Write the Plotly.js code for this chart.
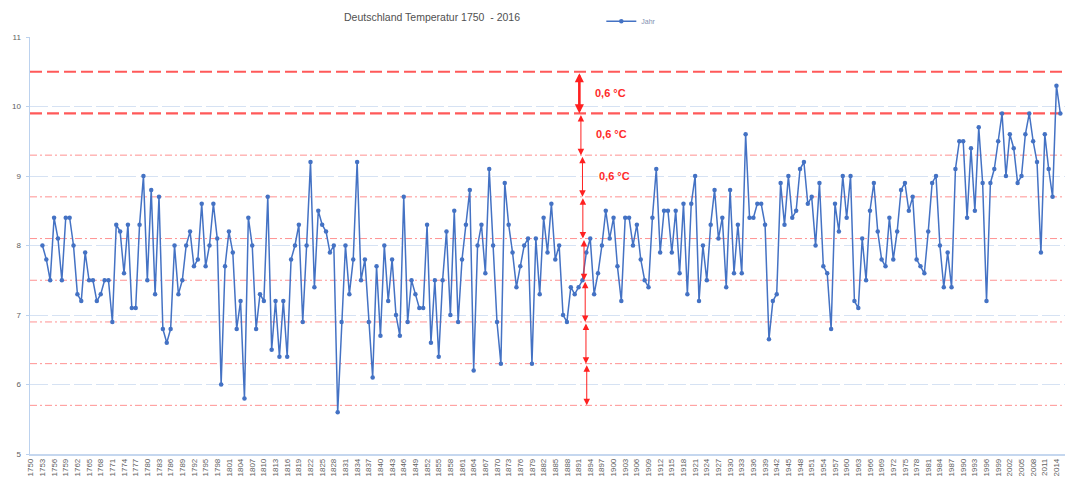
<!DOCTYPE html>
<html><head><meta charset="utf-8">
<script src="https://cdn.plot.ly/plotly-3.0.1.min.js"></script>
<style>html,body{margin:0;padding:0;background:#fff}#chart{width:1072px;height:479px}</style>
</head><body><div id="chart"></div>
<script>
// Annual mean temperature Germany (°C)
const firstYear = 1753;
const temps = [
  8.0,7.8,7.5,8.4,8.1,7.5,8.4,8.4,8.0,7.3,7.2,7.9,7.5,7.5,7.2,7.3,7.5,7.5,6.9,8.3,8.2,7.6,8.3,7.1,7.1,8.3,9.0,7.5,8.8,7.3,8.7,6.8,6.6,6.8,8.0,7.3,7.5,8.0,8.2,7.7,7.8,8.6,7.7,
  8.0,8.6,8.1,6.0,7.7,8.2,7.9,6.8,7.2,5.8,8.4,8.0,6.8,7.3,7.2,8.7,6.5,7.2,6.4,7.2,6.4,7.8,8.0,8.3,6.9,8.0,9.2,7.4,8.5,8.3,8.2,7.9,8.0,5.6,6.9,8.0,7.3,7.8,9.2,7.5,7.8,6.9,6.1,7.7,
  6.7,8.0,7.2,7.8,7.0,6.7,8.7,6.9,7.5,7.3,7.1,7.1,8.3,6.6,7.5,6.4,7.5,8.2,7.0,8.5,6.9,7.8,8.3,8.8,6.2,8.0,8.3,7.6,9.1,8.0,6.9,6.3,8.9,8.3,7.9,7.4,7.7,8.0,8.1,6.3,8.1,7.3,8.4,7.9,8.6,
  7.8,8.0,7.0,6.9,7.4,7.3,7.4,7.5,7.9,8.1,7.3,7.6,8.0,8.5,8.1,8.4,7.7,7.2,8.4,8.4,8.0,8.3,7.8,7.5,7.4,8.4,9.1,7.9,8.5,8.5,7.9,8.5,7.6,8.6,7.3,8.6,9.0,7.2,8.0,7.5,8.3,8.8,8.1,8.4,
  7.4,8.8,7.6,8.3,7.6,9.6,8.4,8.4,8.6,8.6,8.3,6.65,7.2,7.3,8.9,8.3,9.0,8.4,8.5,9.1,9.2,8.6,8.7,8.0,8.9,7.7,7.6,6.8,8.6,8.2,9.0,8.4,9.0,7.2,7.1,8.1,7.5,8.5,8.9,8.2,7.8,7.7,8.4,7.8,
  8.2,8.8,8.9,8.5,8.7,7.8,7.7,7.6,8.2,8.9,9.0,8.0,7.4,7.9,7.4,9.1,9.5,9.5,8.4,9.4,8.5,9.7,8.9,7.2,8.9,9.1,9.5,9.9,9.0,9.6,9.4,8.9,9.0,9.6,9.9,9.5,9.2,7.9,9.6,9.1,8.7,10.3,9.9
];
const years = temps.map((_, i) => firstYear + i);

const seriesName = 'Jahr';
const titleText = 'Deutschland Temperatur 1750 \u00a0- 2016';

// reference levels (0,6 °C steps)
const thickLevels = [10.5, 9.9];
const thinLevels = [9.3, 8.7, 8.1, 7.5, 6.9, 6.3, 5.7];
const arrowLevels = [10.5, 9.9, 9.3, 8.7, 8.1, 7.5, 6.9, 6.3, 5.7];
const arrowYears = [1891.2, 1891.6, 1892.0, 1892.1, 1892.4, 1892.7, 1892.9, 1893.1];
const diffLabels = ['0,6 °C', '0,6 °C', '0,6 °C'];
const diffLabelY = [10.2, 9.6, 9.0];
const diffLabelYear = [1894.7, 1895.0, 1895.7];

const sans = '"Liberation Sans", Arial, sans-serif';

const shapes = [];
thickLevels.forEach(v => shapes.push({
  type: 'line', xref: 'paper', yref: 'y', x0: 0, x1: 1, y0: v, y1: v, layer: 'below',
  line: {color: 'rgba(255,75,75,0.92)', width: 2.2, dash: '12px,5px'}
}));
thinLevels.forEach(v => shapes.push({
  type: 'line', xref: 'paper', yref: 'y', x0: 0, x1: 1, y0: v, y1: v, layer: 'below',
  line: {color: 'rgba(255,110,110,0.75)', width: 1, dash: '7px,3px,2px,3px'}
}));

const annotations = [];
for (let i = 0; i < arrowLevels.length - 1; i++) {
  annotations.push({
    x: arrowYears[i], y: arrowLevels[i + 1], ax: arrowYears[i], ay: arrowLevels[i],
    xref: 'x', yref: 'y', axref: 'x', ayref: 'y', text: '', showarrow: true,
    arrowside: 'end+start', arrowhead: 2, arrowsize: i === 0 ? 0.7 : 1.3,
    arrowwidth: i === 0 ? 2.6 : 1, arrowcolor: '#ff2020', standoff: 0, startstandoff: 0
  });
}
diffLabels.forEach((t, i) => annotations.push({
  x: diffLabelYear[i], y: diffLabelY[i], xref: 'x', yref: 'y', text: '<b>' + t + '</b>',
  showarrow: false, xanchor: 'left', yanchor: 'middle',
  font: {family: sans, size: 11, color: '#ff2a2a'}
}));

const trace = {
  x: years, y: temps, type: 'scatter', mode: 'lines+markers', name: seriesName,
  line: {color: '#4472c4', width: 1.5},
  marker: {color: '#4472c4', size: 4.5, symbol: 'circle'}
};

const layout = {
  width: 1072, height: 479,
  margin: {l: 30, r: 7, t: 33, b: 25, pad: 0},
  paper_bgcolor: '#ffffff', plot_bgcolor: '#ffffff',
  title: {text: titleText, x: 0.403, xanchor: 'center', y: 0.963, yanchor: 'middle',
          font: {family: sans, size: 10.5, color: '#505050'}},
  showlegend: true,
  legend: {x: 0.552, y: 1.038, xanchor: 'left', yanchor: 'middle', orientation: 'h',
           font: {family: sans, size: 7, color: '#7f8fb0'}, bgcolor: 'rgba(0,0,0,0)'},
  xaxis: {
    range: [1749.8, 2016.2], tick0: 1750, dtick: 3, tickangle: -90,
    tickfont: {family: sans, size: 8, color: '#606060'},
    showgrid: false, zeroline: false, showline: true, linecolor: '#c5d7ef', linewidth: 1.5,
    ticks: '', fixedrange: true
  },
  yaxis: {
    range: [5, 11], dtick: 1, tickfont: {family: sans, size: 8, color: '#606060'},
    showgrid: true, gridcolor: '#d6e2f3', gridwidth: 1, griddash: '18px,4px',
    zeroline: false, showline: true, linecolor: '#bcd2ee', linewidth: 1.5,
    ticks: 'outside', ticklen: 3, tickcolor: '#bcd2ee', ticklabelstandoff: 3, fixedrange: true
  },
  shapes: shapes,
  annotations: annotations
};

Plotly.newPlot('chart', [trace], layout, {displayModeBar: false, staticPlot: true});
</script></body></html>
